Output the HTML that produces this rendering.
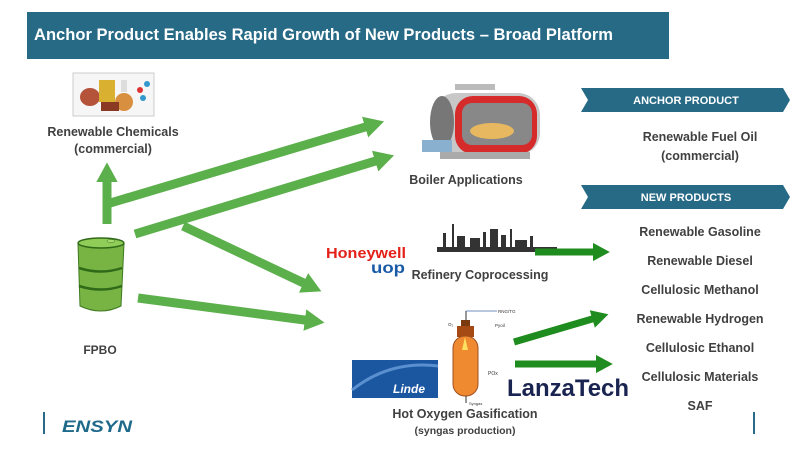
<!DOCTYPE html>
<html><head><meta charset="utf-8"><style>
html,body{margin:0;padding:0;background:#fff;width:800px;height:450px;overflow:hidden}
svg{display:block}
text{font-family:"Liberation Sans",sans-serif}
</style></head><body>
<svg width="800" height="450" viewBox="0 0 800 450" xmlns="http://www.w3.org/2000/svg">
<defs>
<marker id="lg" markerWidth="2.2" markerHeight="2.4" refX="0.8" refY="1.2" orient="auto" markerUnits="strokeWidth"><path d="M0,0 L2.2,1.2 L0,2.4 Z" fill="#5cb04c"/></marker>
<marker id="dg" markerWidth="2.4" markerHeight="2.6" refX="1" refY="1.3" orient="auto" markerUnits="strokeWidth"><path d="M0,0 L2.4,1.3 L0,2.6 Z" fill="#1e8c1e"/></marker>
</defs>
<rect x="27" y="12" width="642" height="47" fill="#276a86"/>
<text x="34" y="40" fill="#fff" font-size="16.5" font-weight="bold" textLength="579" lengthAdjust="spacingAndGlyphs">Anchor Product Enables Rapid Growth of New Products – Broad Platform</text>

<!-- chemicals image -->
<rect x="73" y="73" width="81" height="43" fill="#f6f6f6" stroke="#ccc"/>
<ellipse cx="90" cy="97" rx="10" ry="9" fill="#b5533a"/>
<rect x="99" y="80" width="16" height="22" fill="#d9b030"/>
<circle cx="124" cy="102" r="9" fill="#d89040"/>
<rect x="121" y="80" width="6" height="12" fill="#ddd"/>
<rect x="101" y="102" width="18" height="9" fill="#8a3a22"/>
<circle cx="140" cy="90" r="3" fill="#d33"/><circle cx="147" cy="84" r="3" fill="#39c"/><circle cx="143" cy="98" r="3" fill="#39c"/>
<text x="113" y="136" text-anchor="middle" font-size="12.5" font-weight="bold" fill="#404040">Renewable Chemicals</text>
<text x="113" y="153" text-anchor="middle" font-size="12.5" font-weight="bold" fill="#404040">(commercial)</text>

<!-- light arrows -->
<g stroke="#5cb04c" stroke-width="9" fill="none">
<line x1="107" y1="224" x2="107" y2="175" marker-end="url(#lg)"/>
<line x1="107" y1="204" x2="372" y2="125" marker-end="url(#lg)"/>
<line x1="135" y1="234" x2="382" y2="159" marker-end="url(#lg)"/>
<line x1="183" y1="226" x2="310" y2="286" marker-end="url(#lg)"/>
<line x1="138" y1="298" x2="312" y2="321" marker-end="url(#lg)"/>
</g>

<!-- barrel -->
<path d="M78,244 L80,306 Q101,316 121,306 L124,244 Z" fill="#78b443" stroke="#3e7a20" stroke-width="1"/>
<ellipse cx="101" cy="243" rx="23" ry="5" fill="#8fcc58" stroke="#2f6a18" stroke-width="1.5"/>
<path d="M79,268 Q101,275 122,268 M79,286 Q101,293 122,286" stroke="#2f6a18" stroke-width="2.5" fill="none"/>
<ellipse cx="111" cy="241" rx="4" ry="1.5" fill="#a8dc70" stroke="#3e7a20" stroke-width="0.5"/>
<text x="100" y="354" text-anchor="middle" font-size="12" font-weight="bold" fill="#404040">FPBO</text>

<!-- boiler -->
<rect x="434" y="93" width="106" height="62" rx="22" fill="#c8c8c8"/>
<rect x="455" y="96" width="82" height="58" rx="18" fill="#d62b2b"/>
<rect x="462" y="103" width="70" height="42" rx="10" fill="#888"/>
<ellipse cx="492" cy="131" rx="22" ry="8" fill="#e8b860"/>
<ellipse cx="442" cy="122" rx="12" ry="26" fill="#777"/>
<rect x="455" y="84" width="40" height="6" fill="#bbb"/>
<rect x="422" y="140" width="30" height="12" fill="#8ab0d0"/>
<rect x="440" y="152" width="90" height="7" fill="#aaa"/>
<text x="466" y="184" text-anchor="middle" font-size="12.5" font-weight="bold" fill="#404040">Boiler Applications</text>

<!-- honeywell -->
<text x="326" y="258" font-size="15" font-weight="bold" fill="#e32119" textLength="80" lengthAdjust="spacingAndGlyphs">Honeywell</text>
<text x="371" y="273" font-size="16" font-weight="bold" fill="#1a5aa6" textLength="34" lengthAdjust="spacingAndGlyphs">uop</text>
<!-- refinery -->
<g fill="#333">
<rect x="437" y="247" width="120" height="5"/>
<rect x="443" y="233" width="3" height="15"/><rect x="452" y="224" width="2" height="24"/>
<rect x="457" y="236" width="8" height="12"/><rect x="470" y="238" width="10" height="10"/>
<rect x="483" y="232" width="3" height="16"/><rect x="490" y="229" width="8" height="19"/>
<rect x="501" y="235" width="5" height="13"/><rect x="510" y="229" width="2" height="19"/>
<rect x="515" y="240" width="12" height="8"/><rect x="530" y="236" width="3" height="12"/>
</g>
<text x="480" y="279" text-anchor="middle" font-size="12.5" font-weight="bold" fill="#404040">Refinery Coprocessing</text>

<!-- gasifier -->
<line x1="466" y1="311" x2="466" y2="322" stroke="#333"/>
<line x1="466" y1="311" x2="497" y2="311" stroke="#46a" stroke-width="0.8"/>
<text x="498" y="313" font-size="4.5" fill="#333">RNG/TG</text>
<text x="448" y="326" font-size="4.5" fill="#333">O₂</text>
<text x="495" y="327" font-size="4.5" fill="#333">Pyoil</text>
<rect x="461" y="320" width="9" height="8" fill="#7a3a10"/>
<rect x="457" y="326" width="17" height="11" fill="#a54a14"/>
<rect x="453" y="336" width="25" height="60" rx="12" fill="#f08a30" stroke="#a05020"/>
<path d="M465,337 L468,350 L462,350 Z" fill="#ffe060"/>
<line x1="466" y1="396" x2="466" y2="403" stroke="#333"/>
<text x="469" y="405" font-size="4" fill="#333">Syngas</text>
<text x="488" y="375" font-size="5" fill="#333">POx</text>
<rect x="352" y="360" width="86" height="38" fill="#1b56a0"/>
<path d="M352,390 Q390,360 438,366" stroke="#5a90d0" stroke-width="3" fill="none"/>
<text x="393" y="393" font-size="12" font-style="italic" font-weight="bold" fill="#fff">Linde</text>
<text x="507" y="396" font-size="24" font-weight="bold" fill="#1a2450" textLength="122" lengthAdjust="spacingAndGlyphs">LanzaTech</text>
<text x="465" y="418" text-anchor="middle" font-size="12.5" font-weight="bold" fill="#404040">Hot Oxygen Gasification</text>
<text x="465" y="434" text-anchor="middle" font-size="10.5" font-weight="bold" fill="#404040">(syngas production)</text>

<!-- dark arrows -->
<g stroke="#1e8c1e" stroke-width="7" fill="none">
<line x1="535" y1="252" x2="600" y2="252" marker-end="url(#dg)"/>
<line x1="514" y1="342" x2="599" y2="317" marker-end="url(#dg)"/>
<line x1="515" y1="364" x2="603" y2="364" marker-end="url(#dg)"/>
</g>

<!-- banners -->
<path d="M581,88 L783,88 L790,100 L783,112 L581,112 L588,100 Z" fill="#276a86"/>
<text x="686" y="104" text-anchor="middle" font-size="11" font-weight="bold" fill="#fff">ANCHOR PRODUCT</text>
<text x="700" y="141" text-anchor="middle" font-size="12.5" font-weight="bold" fill="#404040">Renewable Fuel Oil</text>
<text x="700" y="160" text-anchor="middle" font-size="12.5" font-weight="bold" fill="#404040">(commercial)</text>
<path d="M581,185 L783,185 L790,197 L783,209 L581,209 L588,197 Z" fill="#276a86"/>
<text x="686" y="201" text-anchor="middle" font-size="11" font-weight="bold" fill="#fff">NEW PRODUCTS</text>
<g font-size="12.5" font-weight="bold" fill="#404040" text-anchor="middle">
<text x="700" y="236">Renewable Gasoline</text>
<text x="700" y="265">Renewable Diesel</text>
<text x="700" y="294">Cellulosic Methanol</text>
<text x="700" y="323">Renewable Hydrogen</text>
<text x="700" y="352">Cellulosic Ethanol</text>
<text x="700" y="381">Cellulosic Materials</text>
<text x="700" y="410">SAF</text>
</g>

<!-- footer -->
<rect x="43" y="412" width="2" height="22" fill="#2a6a86"/>
<rect x="753" y="412" width="2" height="22" fill="#2a6a86"/>
<text x="62" y="432" font-size="17" font-weight="bold" font-style="italic" fill="#1f6a8a" textLength="70" lengthAdjust="spacingAndGlyphs">ENSYN</text>
</svg>
</body></html>
